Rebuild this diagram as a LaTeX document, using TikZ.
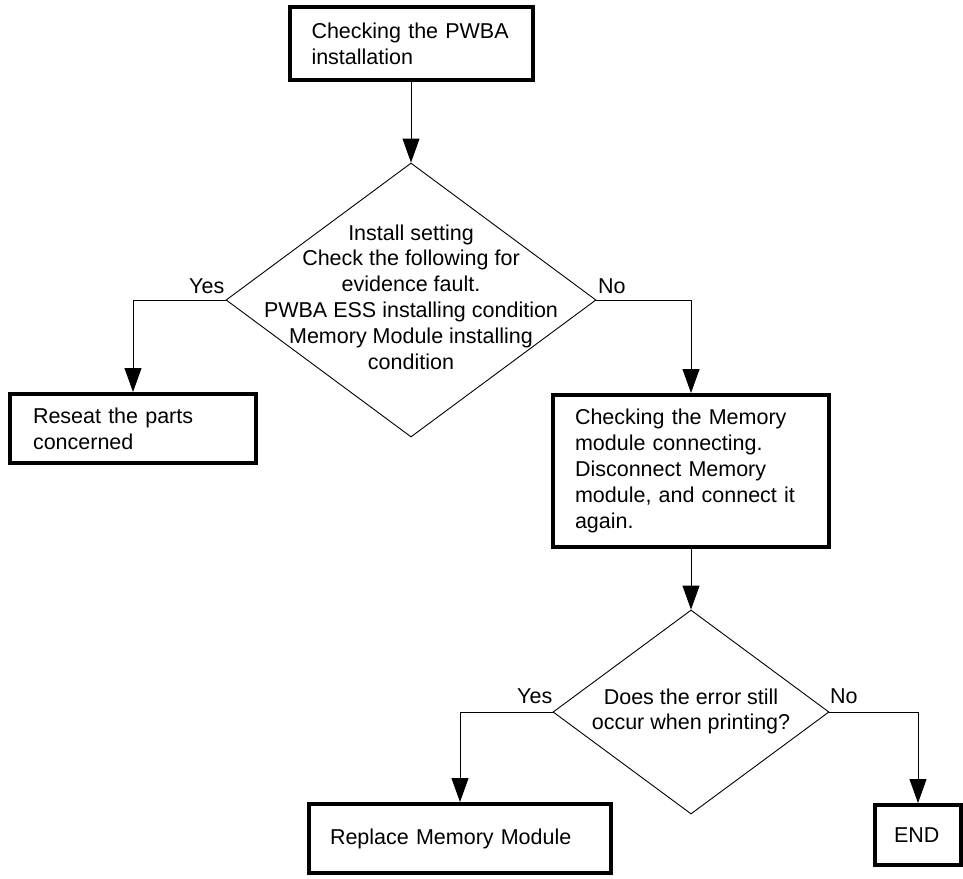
\documentclass[tikz,border=0pt]{standalone}
\usepackage{fontspec}
\setmainfont{Liberation Sans}
\usetikzlibrary{shapes.geometric,arrows.meta}
\begin{document}
\begin{tikzpicture}[x=1pt,y=-1pt,
  font=\fontsize{21.5}{25.8}\selectfont,
  box/.style={draw, line width=4pt, rectangle, align=left, inner ysep=0pt},
  dec/.style={draw, diamond, line width=0.9pt, inner sep=0pt},
  dtext/.style={align=center, inner sep=0pt},
  conn/.style={line width=0.9pt, -{Triangle[width=17pt,length=24pt]}},
  lab/.style={inner sep=0pt, anchor=base west}]
\useasboundingbox (0,0) rectangle (963,878);

% boxes
\node[box, text width=199pt, inner xsep=22pt, minimum height=73pt] (b1) at (411,43.5) {Checking the PWBA\\installation};
\node[box, text width=200pt, inner xsep=23pt, minimum height=69pt] (rs) at (133,428.5) {Reseat the parts\\concerned};
\node[box, text width=232pt, inner xsep=22pt, minimum height=152pt] (mem) at (691,471) {Checking the Memory\\module connecting.\\Disconnect Memory\\module, and connect it\\again.};
\node[box, text width=260pt, inner xsep=21pt, minimum height=69pt] (rep) at (460,838.5) {Replace Memory Module};
\node[box, text width=48pt, inner xsep=19pt, minimum height=60pt] (endb) at (918,835) {END};

% decisions
\node[dec, minimum width=370pt, minimum height=274pt] (d1) at (411,300) {};
\node[dtext] (t1) at (411,297) {Install setting\\Check the following for\\evidence fault.\\PWBA ESS installing condition\\Memory Module installing\\condition};
\node[dec, minimum width=276pt, minimum height=204pt] (d2) at (691,712) {};
\node[dtext] (t2) at (691,711.5) {Does the error still\\occur when printing?};

% connectors
\draw[conn] (b1.south) -- (d1.north);
\draw[conn] (d1.west) -| (rs.north);
\draw[conn] (d1.east) -| (mem.north);
\draw[conn] (mem.south) -- (d2.north);
\draw[conn] (d2.west) -| (rep.north);
\draw[conn] (d2.east) -| (endb.north);

% labels
\node[lab] (y1) at (189,293) {Yes};
\node[lab] (n1) at (598,293) {No};
\node[lab] (y2) at (517,703) {Yes};
\node[lab] (n2) at (830,703) {No};
\end{tikzpicture}
\end{document}
